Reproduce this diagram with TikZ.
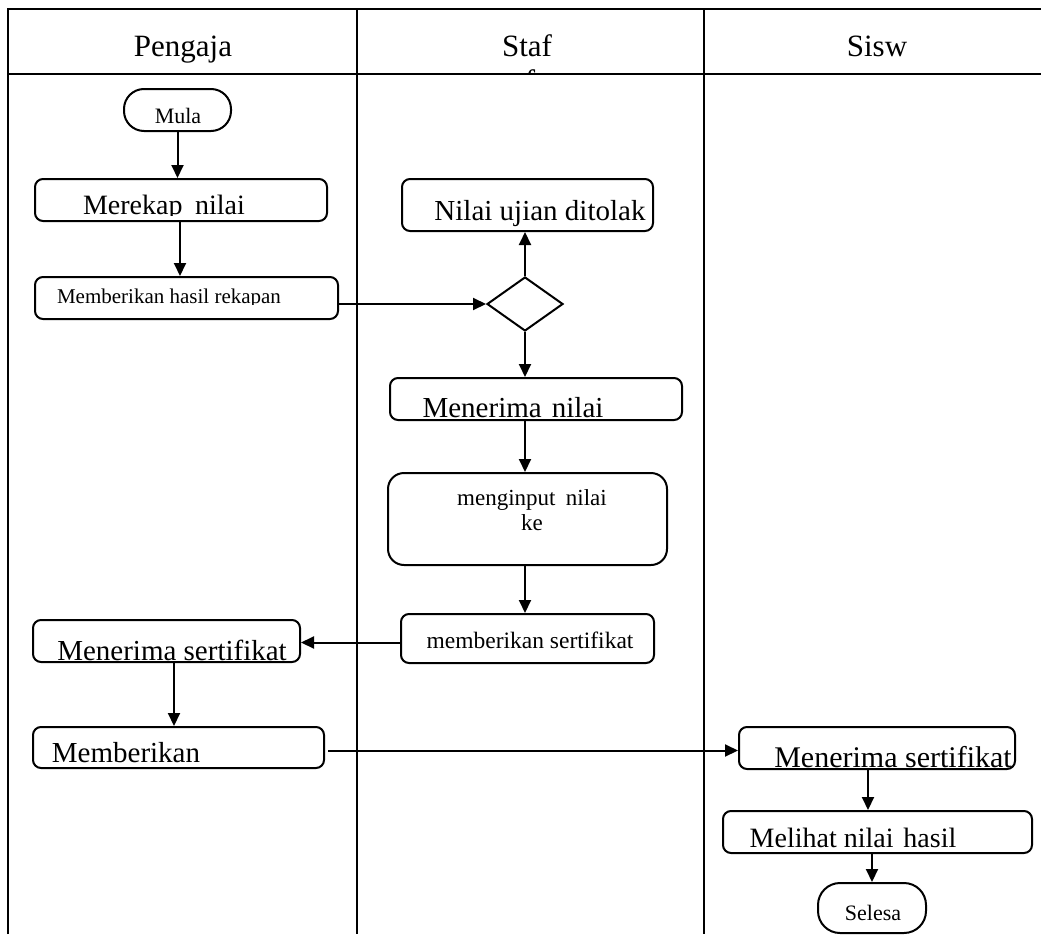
\documentclass[tikz,border=0pt]{standalone}
\usepackage{fontspec}
\setmainfont{Liberation Serif}
\usetikzlibrary{arrows.meta,shapes.geometric}
\begin{document}
\begin{tikzpicture}[x=1pt,y=-1pt,
  frame/.style={line width=2pt},
  box/.style={draw, line width=2pt, rounded corners=8pt, inner sep=0pt},
  term/.style={draw, line width=2pt, rounded corners=20pt, inner sep=0pt},
  dec/.style={draw, diamond, line width=2pt, inner sep=0pt},
  arr/.style={line width=2pt, -{Triangle[length=13pt,width=12pt]}},
  txt/.style={font=\fontsize{#1}{#1}\selectfont, anchor=base, inner sep=0pt},
]
\useasboundingbox (0,0) rectangle (1041,934);
% swimlane frame
\draw[frame] (8,934) -- (8,9) -- (1041,9);
\draw[frame] (8,74) -- (1041,74);
\draw[frame] (357,9) -- (357,934);
\draw[frame] (704,9) -- (704,934);
% headers
\node[txt=31] (hP) at (183,57) {Pengaja};
\node[txt=31] (hS) at (527,57) {Staf};
\node[txt=31] (hW) at (877,57) {Sisw};
\begin{scope}
  \clip (360,12) rectangle (700,73);
  \node[txt=31] (hS2) at (530,91) {f};
\end{scope}
% Pengaja lane
\node[term, minimum width=107pt, minimum height=42pt] (mula) at (177.5,110) {};
\node[txt=22] (tmula) at (178,123) {Mula};
\node[box, minimum width=292pt, minimum height=42pt] (rekap) at (181,200) {};
\begin{scope}
  \clip (35,179) rectangle (327,215);
  \node[txt=28] (trekap) at (164,214) {Merekap\hspace{0.45em}nilai};
\end{scope}
\node[box, minimum width=303pt, minimum height=42pt] (hasil) at (186.5,298) {};
\begin{scope}
  \clip (35,277) rectangle (338,304);
  \node[txt=21] (thasil) at (169,303) {Memberikan hasil rekapan};
\end{scope}
\node[box, minimum width=267pt, minimum height=42pt] (terima1) at (166.5,641) {};
\begin{scope}
  \clip (33,620) rectangle (300,661);
  \node[txt=29] (tterima1) at (172,660) {Menerima sertifikat};
\end{scope}
\node[box, minimum width=291pt, minimum height=41pt] (beri) at (178.5,747.5) {};
\begin{scope}
  \clip (33,727) rectangle (324,763);
  \node[txt=29] (tberi) at (126,762) {Memberikan};
\end{scope}
% Staf lane
\node[box, minimum width=251pt, minimum height=52pt] (tolak) at (527.5,205) {};
\node[txt=29] (ttolak) at (540,220) {Nilai ujian ditolak};
\node[dec, minimum width=76pt, minimum height=54pt] (dia) at (525,304) {};
\node[box, minimum width=292pt, minimum height=42pt] (nilai) at (536,399) {};
\node[txt=29] (tnilai) at (513,417) {Menerima\hspace{0.35em}nilai};
\node[box, rounded corners=16pt, minimum width=279pt, minimum height=92pt] (input) at (527.5,519) {};
\node[txt=23] (tinput1) at (532,505) {menginput\hspace{0.45em}nilai};
\node[txt=23] (tinput2) at (532,530) {ke};
\node[box, minimum width=253pt, minimum height=49pt] (sert) at (527.5,638.5) {};
\node[txt=23.5] (tsert) at (530,648) {memberikan sertifikat};
% Siswa lane
\node[box, minimum width=276pt, minimum height=42pt] (terima2) at (877,748) {};
\begin{scope}
  \clip (739,727) rectangle (1015,767.5);
  \node[txt=30] (tterima2) at (893,767) {Menerima sertifikat};
\end{scope}
\node[box, minimum width=309pt, minimum height=42pt] (lihat) at (877.5,832) {};
\node[txt=28] (tlihat) at (853,847) {Melihat nilai\hspace{0.35em}hasil};
\node[term, rounded corners=22pt, minimum width=108pt, minimum height=50pt] (selesa) at (872,908) {};
\node[txt=22] (tselesa) at (873,920) {Selesa};
% connectors
\draw[arr] (mula.south) -- (mula.south |- rekap.north);
\draw[arr] ([xshift=-1pt]rekap.south) -- ([xshift=-1pt]rekap.south |- hasil.north);
\draw[arr] (hasil.east |- dia.west) -- (dia.west);
\draw[arr] (dia.north) -- (dia.north |- tolak.south);
\draw[arr] (dia.south) -- (dia.south |- nilai.north);
\draw[arr] (dia.south |- nilai.south) -- (dia.south |- input.north);
\draw[arr] (dia.south |- input.south) -- (dia.south |- sert.north);
\draw[arr] ([yshift=-4pt]sert.west) -- ([yshift=-4pt]sert.west -| terima1.east);
\draw[arr] ([xshift=7.5pt]terima1.south) -- ([xshift=7.5pt]terima1.south |- beri.north);
\draw[arr] ([xshift=3pt,yshift=-3pt]beri.east) -- ([yshift=-3pt]beri.east -| terima2.west);
\draw[arr] ([xshift=-9pt]terima2.south) -- ([xshift=-9pt]terima2.south |- lihat.north);
\draw[arr] (selesa.north |- lihat.south) -- (selesa.north);
\end{tikzpicture}
\end{document}
